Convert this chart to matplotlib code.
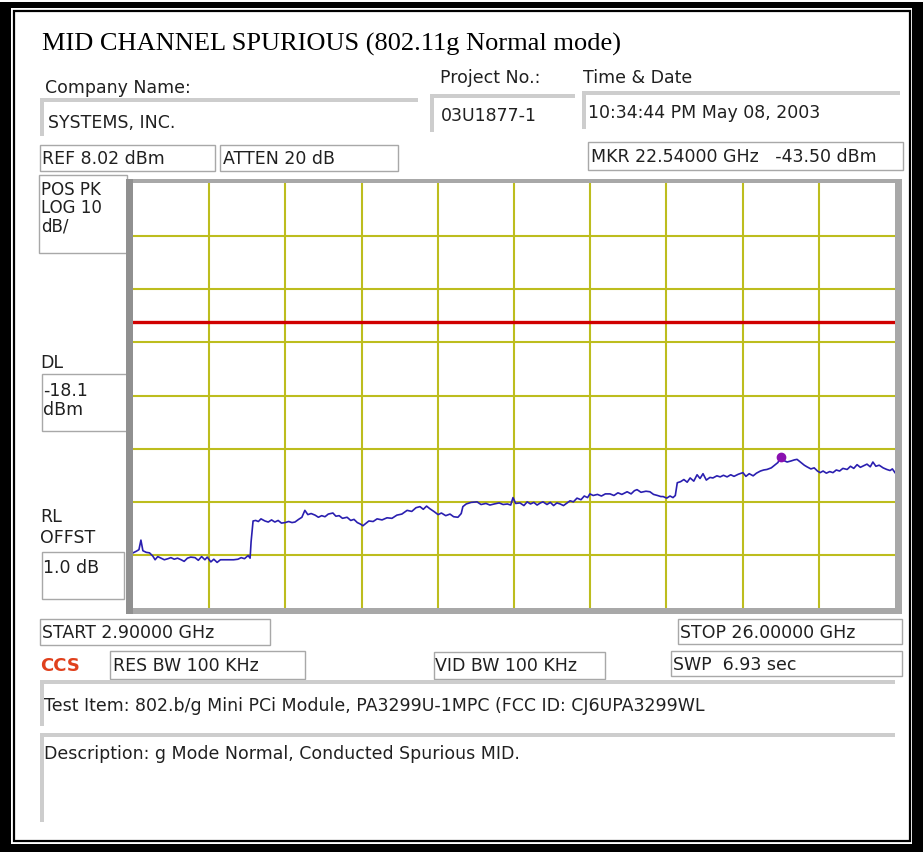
import matplotlib
matplotlib.use("Agg")
import matplotlib.pyplot as plt
from matplotlib.patches import Rectangle

# analyzer settings
start_ghz = 2.9
stop_ghz = 26.0
ref_dbm = 8.02
db_per_div = 10
n_ydiv = 8
n_xdiv = 10
display_line_dbm = -18.1
marker_ghz = 22.54
marker_dbm = -43.50

# trace (GHz, dBm)
freq_ghz = [
    2.90, 3.00, 3.08, 3.14, 3.20, 3.30, 3.40, 3.50, 3.57, 3.65, 3.75, 3.85, 3.96, 4.05,
    4.15, 4.25, 4.36, 4.45, 4.55, 4.65, 4.78, 4.88, 4.98, 5.08, 5.15, 5.26, 5.35, 5.45,
    5.55, 5.69, 5.80, 5.95, 6.08, 6.18, 6.28, 6.39, 6.45, 6.48, 6.54, 6.62, 6.70, 6.78,
    6.90, 7.00, 7.10, 7.20, 7.30, 7.40, 7.51, 7.62, 7.72, 7.81, 7.92, 8.02, 8.11, 8.20,
    8.30, 8.42, 8.52, 8.62, 8.72, 8.82, 8.96, 9.05, 9.15, 9.25, 9.39, 9.50, 9.60, 9.70,
    9.80, 9.87, 9.95, 10.05, 10.18, 10.30, 10.45, 10.60, 10.75, 10.90, 11.05, 11.21,
    11.35, 11.48, 11.60, 11.70, 11.80, 11.90, 12.02, 12.15, 12.25, 12.38, 12.51, 12.62,
    12.75, 12.85, 12.90, 13.00, 13.15, 13.33, 13.45, 13.60, 13.72, 13.85, 14.00, 14.12,
    14.25, 14.35, 14.42, 14.50, 14.63, 14.75, 14.85, 14.95, 15.05, 15.15, 15.25, 15.33,
    15.45, 15.55, 15.65, 15.75, 15.85, 15.95, 16.06, 16.15, 16.25, 16.36, 16.48, 16.58,
    16.68, 16.75, 16.85, 16.98, 17.10, 17.22, 17.36, 17.48, 17.60, 17.72, 17.88, 18.00,
    18.10, 18.18, 18.30, 18.45, 18.57, 18.68, 18.80, 18.90, 18.97, 19.08, 19.18, 19.27,
    19.34, 19.40, 19.50, 19.60, 19.70, 19.79, 19.90, 20.00, 20.09, 20.18, 20.28, 20.39,
    20.48, 20.60, 20.70, 20.80, 20.91, 21.02, 21.12, 21.25, 21.39, 21.48, 21.58, 21.70,
    21.80, 21.92, 22.02, 22.12, 22.25, 22.35, 22.45, 22.54, 22.62, 22.73, 22.85, 22.95,
    23.03, 23.15, 23.25, 23.33, 23.45, 23.55, 23.65, 23.73, 23.82, 23.92, 24.02, 24.12,
    24.22, 24.32, 24.42, 24.55, 24.65, 24.75, 24.85, 24.95, 25.05, 25.15, 25.25, 25.33,
    25.42, 25.52, 25.64, 25.75, 25.85, 25.92, 26.00,
]
level_dbm = [
    -61.6, -61.3, -61.0, -59.2, -61.2, -61.5, -61.6, -62.2, -62.9, -62.3, -62.6, -62.9, -62.7, -62.5,
    -62.8, -62.6, -62.9, -63.2, -62.6, -62.4, -62.5, -63.0, -62.3, -62.9, -62.4, -63.3, -62.8, -63.4,
    -62.9, -62.9, -62.9, -62.9, -62.8, -62.5, -62.7, -62.1, -62.6, -59.5, -55.6, -55.5, -55.7, -55.2,
    -55.6, -55.8, -55.4, -55.8, -55.5, -56.0, -55.9, -55.7, -55.9, -55.8, -55.3, -54.9, -53.6, -54.4,
    -54.2, -54.5, -54.9, -54.6, -54.8, -54.3, -54.1, -54.7, -54.6, -55.1, -54.9, -55.5, -55.3, -55.9,
    -56.2, -56.5, -56.1, -55.6, -55.7, -55.2, -55.4, -55.0, -55.1, -54.5, -54.3, -53.6,
    -53.8, -53.1, -52.9, -53.4, -52.8, -53.3, -53.8, -54.4, -54.1, -54.6, -54.3, -54.8,
    -54.9, -54.2, -52.9, -52.4, -52.1, -52.0, -52.5, -52.3, -52.6, -52.4, -52.2, -52.5,
    -52.4, -52.6, -51.2, -52.3, -52.2, -52.7, -52.0, -52.4, -52.1, -52.6, -52.2, -52.0,
    -52.5, -52.1, -52.7, -52.2, -52.4, -52.7, -52.2, -51.8, -52.0, -51.3, -51.6, -50.9,
    -51.2, -50.5, -50.8, -50.6, -50.9, -50.5, -50.5, -50.8, -50.3, -50.6, -50.1, -50.5,
    -49.9, -49.7, -50.2, -50.0, -50.1, -50.6, -50.8, -51.0, -51.0, -51.3, -50.9, -51.2,
    -50.8, -48.4, -48.2, -47.8, -48.3, -47.5, -48.1, -46.9, -47.6, -46.7, -47.9, -47.4,
    -47.5, -47.1, -47.3, -47.0, -47.3, -46.9, -47.2, -46.8, -46.5, -47.2, -46.7, -47.1,
    -46.6, -46.2, -46.0, -45.9, -45.6, -45.1, -44.6, -43.5, -44.2, -44.5, -44.3, -44.1,
    -44.0, -44.6, -45.1, -45.4, -45.8, -45.6, -46.2, -46.5, -46.2, -46.6, -46.3, -46.5,
    -46.0, -46.2, -45.7, -45.9, -45.3, -45.7, -45.0, -45.5, -45.2, -44.9, -45.4, -44.5,
    -45.3, -45.1, -45.6, -45.9, -46.1, -45.8, -46.5,
]

title = "MID CHANNEL SPURIOUS (802.11g Normal mode)"
company = "SYSTEMS, INC."
project_no = "03U1877-1"
time_date = "10:34:44 PM May 08, 2003"
test_item = "Test Item: 802.b/g Mini PCi Module, PA3299U-1MPC (FCC ID: CJ6UPA3299WL"
description = "Description: g Mode Normal, Conducted Spurious MID."

W, H = 923, 853
FS = 12.5
GRAY = "#a8a8a8"
LIGHT = "#cdcdcd"

fig = plt.figure(figsize=(W / 100, H / 100), dpi=100)
fig.patch.set_facecolor("white")

# full-figure canvas in pixel units for the panel decorations
bg = fig.add_axes([0, 0, 1, 1])
bg.set_xlim(0, W)
bg.set_ylim(H, 0)
bg.axis("off")


def rect(x0, y0, x1, y1, **kw):
    bg.add_patch(Rectangle((x0, y0), x1 - x0, y1 - y0, **kw))


def box(x0, y0, x1, y1):
    rect(x0, y0, x1, y1, facecolor="white", edgecolor=GRAY, lw=1)


def field(x0, y0, x1, y1):
    # sunken entry field: grey top and left edges
    rect(x0, y0, x1, y0 + 4, facecolor=LIGHT, edgecolor="none")
    rect(x0, y0, x0 + 4, y1, facecolor=LIGHT, edgecolor="none")


def label(x, y, s, **kw):
    kw.setdefault("fontsize", FS)
    bg.text(x, y, s, ha="left", va="center", color="#202020", **kw)


# double black border
rect(0, 3, W, 9, facecolor="black", edgecolor="none")
rect(0, 845, W, H, facecolor="black", edgecolor="none")
rect(0, 3, 11, H, facecolor="black", edgecolor="none")
rect(912, 3, W, H, facecolor="black", edgecolor="none")
rect(13.5, 11.5, 909.5, 841.5, facecolor="none", edgecolor="black", lw=1.6)

bg.text(42, 51, title, family="Liberation Serif", fontsize=19, ha="left",
        va="baseline", color="black")

# header
label(45, 88, "Company Name:")
field(40, 99, 418, 137)
label(48, 123, company)
label(440, 78, "Project No.:")
field(430, 95, 575, 133)
label(441, 116, project_no)
label(583, 78, "Time & Date")
field(582, 92, 900, 130)
label(588, 113, time_date)

box(40, 146, 215, 172)
label(42, 159, "REF 8.02 dBm")
box(220, 146, 398, 172)
label(223, 159, "ATTEN 20 dB")
box(588, 143, 903, 171)
label(591, 157, "MKR %.5f GHz   %.2f dBm" % (marker_ghz, marker_dbm))

# left side labels
box(39, 176, 127, 254)
label(41, 190, "POS PK", fontsize=12)
label(41, 208, "LOG %d" % db_per_div, fontsize=12)
label(41, 226, "dB/", fontsize=12)
label(40, 363, "DL")
box(42, 375, 127, 432)
label(43, 391, "%.1f" % display_line_dbm)
label(43, 410, "dBm")
label(40, 517, "RL")
label(40, 538, "OFFST")
box(42, 553, 124, 600)
label(43, 568, "1.0 dB")

# bottom labels
box(40, 620, 270, 646)
label(42, 633, "START %.5f GHz" % start_ghz)
box(678, 620, 902, 645)
label(680, 633, "STOP %.5f GHz" % stop_ghz)
bg.text(40, 666, "CCS", fontsize=13, fontweight="bold", color="#e0401c",
        ha="left", va="center")
box(110, 652, 305, 680)
label(113, 666, "RES BW 100 KHz")
box(434, 653, 605, 680)
label(435, 666, "VID BW 100 KHz")
box(671, 652, 902, 677)
label(673, 665, "SWP  6.93 sec")
field(40, 681, 895, 727)
label(44, 706, test_item)
field(40, 734, 895, 823)
label(44, 754, description)

# screen frame
rect(126, 180, 902, 615, facecolor=GRAY, edgecolor="none")
rect(126, 180, 133, 615, facecolor="#909090", edgecolor="none")

# trace screen
x0, y0, x1, y1 = 133, 184, 895, 609
ax = fig.add_axes([x0 / W, 1 - y1 / H, (x1 - x0) / W, (y1 - y0) / H])
ax.set_facecolor("white")
bottom = ref_dbm - n_ydiv * db_per_div
ax.set_xlim(start_ghz, stop_ghz)
ax.set_ylim(bottom, ref_dbm)
span = stop_ghz - start_ghz
ax.set_xticks([start_ghz + span * i / n_xdiv for i in range(1, n_xdiv)])
ax.set_yticks([bottom + db_per_div * i for i in range(1, n_ydiv)])
ax.grid(True, color="#bdbd1e", lw=1.5)
ax.tick_params(length=0, labelbottom=False, labelleft=False)
for s in ax.spines.values():
    s.set_visible(False)

ax.axhline(display_line_dbm, color="#d00000", lw=2.4, zorder=3)
ax.plot(freq_ghz, level_dbm, color="#2a1fb0", lw=1.2, zorder=4)
ax.plot([marker_ghz], [marker_dbm], "o", color="#8a10b0", ms=6, zorder=5)

fig.savefig("out.png", dpi=100)
